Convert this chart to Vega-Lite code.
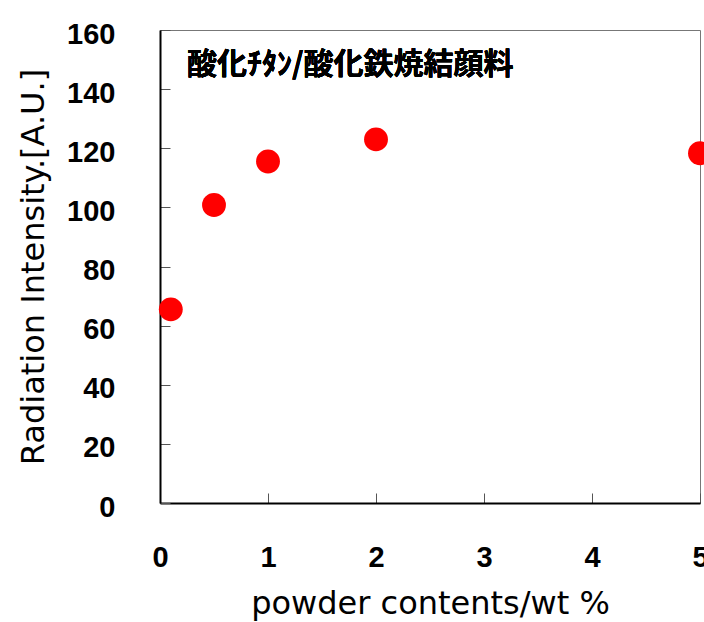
{
  "$schema": "https://vega.github.io/schema/vega-lite/v6.json",
  "width": 540,
  "height": 473,
  "autosize": "none",
  "padding": {"left": 160, "top": 30, "right": 4, "bottom": 119},
  "background": "white",
  "view": {"stroke": "#777", "strokeWidth": 1},
  "data": {"values": [
    {"content": 0.1, "intensity": 65.5},
    {"content": 0.5, "intensity": 100.8},
    {"content": 1.0, "intensity": 115.5},
    {"content": 2.0, "intensity": 123.0},
    {"content": 5.0, "intensity": 118.3}
  ]},
  "layer": [
    {
      "mark": {"type": "circle", "color": "#ff0000", "opacity": 1, "size": 570, "clip": false},
      "encoding": {
        "x": {"field": "content", "type": "quantitative",
          "scale": {"domain": [0, 5], "nice": false},
          "axis": {"title": "powder contents/wt %", "values": [0, 1, 2, 3, 4, 5], "format": "d", "grid": false,
            "tickSize": -10, "tickColor": "#555", "tickWidth": 1,
            "domainColor": "black", "domainWidth": 2,
            "labelFont": "Liberation Sans", "labelFontWeight": "bold", "labelFontSize": 29, "labelColor": "black",
            "labelPadding": 50, "labelFlush": false,
            "titleFont": "DejaVu Sans", "titleFontWeight": "normal", "titleFontSize": 32, "titleColor": "black",
            "titlePadding": 16}},
        "y": {"field": "intensity", "type": "quantitative",
          "scale": {"domain": [0, 160], "nice": false},
          "axis": {"title": "Radiation Intensity.[A.U.]", "values": [0, 20, 40, 60, 80, 100, 120, 140, 160], "format": "d", "grid": false,
            "tickSize": -10, "tickColor": "#555", "tickWidth": 1,
            "domainColor": "black", "domainWidth": 2,
            "labelFont": "Liberation Sans", "labelFontWeight": "bold", "labelFontSize": 29, "labelColor": "black",
            "labelPadding": 55, "labelFlush": false, "labelOffset": 4,
            "titleFont": "DejaVu Sans", "titleFontWeight": "normal", "titleFontSize": 32, "titleColor": "black",
            "titlePadding": 16}}
      }
    },
    {
      "mark": {"type": "text", "text": "酸化ﾁﾀﾝ/酸化鉄焼結顔料", "font": "Noto Sans CJK JP", "fontWeight": "bold",
        "fontSize": 30, "align": "left", "baseline": "middle", "color": "black"},
      "encoding": {
        "x": {"datum": 0.25, "type": "quantitative"},
        "y": {"datum": 148, "type": "quantitative"}
      }
    }
  ]
}
